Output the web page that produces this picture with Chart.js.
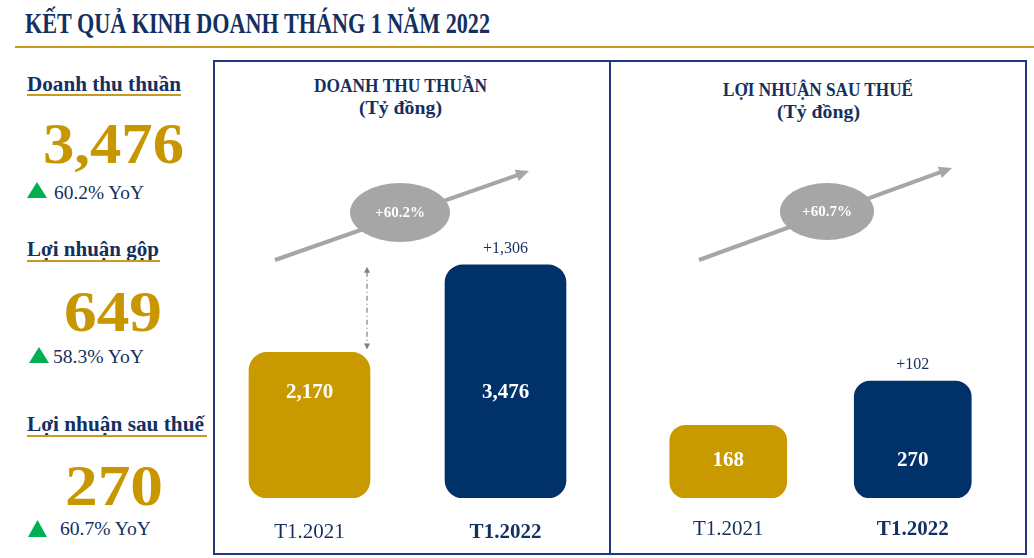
<!DOCTYPE html>
<html lang="vi">
<head>
<meta charset="utf-8">
<title>Kết quả kinh doanh tháng 1 năm 2022</title>
<script src="https://cdn.jsdelivr.net/npm/chart.js@4.4.1/dist/chart.umd.min.js"></script>
<style>
  body { margin: 0; width: 1034px; height: 558px; background: #fff; position: relative; overflow: hidden;
         font-family: 'Liberation Serif', serif; color: #14305f; }
  .t { position: absolute; white-space: nowrap; line-height: 1; transform-origin: 0 0; }
  .b { font-weight: bold; }
  .gold { color: #c89600; }
  .line { position: absolute; background: #c99a1c; }
  .tri { position: absolute; background: #00b050; clip-path: polygon(50% 0, 100% 100%, 0 100%); }
  .panel { position: absolute; box-sizing: border-box; border: 2px solid #1f3a7a; }
  canvas { position: absolute; }
</style>
</head>
<body>
<!-- header -->
<div class="t b" style="font-size:30px" data-x="25" data-b="33" data-w="465">KẾT QUẢ KINH DOANH THÁNG 1 NĂM 2022</div>
<div class="line" style="left:15px;top:46px;width:1019px;height:2px"></div>

<!-- left column -->
<div class="t b" style="font-size:21px" data-x="27" data-b="92" data-w="154">Doanh thu thuần</div>
<div class="line" style="left:27px;top:94px;width:154px;height:2px"></div>
<div class="t b gold" style="font-size:56px" data-x="43" data-b="163" data-w="141">3,476</div>
<div class="tri" style="left:27px;top:182px;width:20px;height:16px"></div>
<div class="t" style="font-size:19px" data-x="54" data-b="199" data-w="90">60.2% YoY</div>

<div class="t b" style="font-size:21px" data-x="27" data-b="257" data-w="132">Lợi nhuận gộp</div>
<div class="line" style="left:27px;top:260px;width:133px;height:2px"></div>
<div class="t b gold" style="font-size:56px" data-x="64" data-b="331" data-w="98">649</div>
<div class="tri" style="left:29px;top:347px;width:20px;height:16px"></div>
<div class="t" style="font-size:19px" data-x="53" data-b="363" data-w="91">58.3% YoY</div>

<div class="t b" style="font-size:21px" data-x="27" data-b="432" data-w="177">Lợi nhuận sau thuế</div>
<div class="line" style="left:27px;top:435px;width:180px;height:2px"></div>
<div class="t b gold" style="font-size:56px" data-x="65" data-b="505" data-w="98">270</div>
<div class="tri" style="left:28px;top:520px;width:19px;height:17px"></div>
<div class="t" style="font-size:19px" data-x="60" data-b="535" data-w="91">60.7% YoY</div>

<!-- panels -->
<div class="panel" style="left:213px;top:60px;width:398px;height:495px"></div>
<div class="panel" style="left:609px;top:60px;width:418px;height:495px"></div>
<div class="t b" style="font-size:18px" data-x="314" data-b="92" data-w="173">DOANH THU THUẦN</div>
<div class="t b" style="font-size:18px" data-x="359" data-b="114" data-w="83">(Tỷ đồng)</div>
<div class="t b" style="font-size:18px" data-x="723" data-b="96" data-w="190">LỢI NHUẬN SAU THUẾ</div>
<div class="t b" style="font-size:18px" data-x="777" data-b="118" data-w="83">(Tỷ đồng)</div>

<canvas id="revChart" width="400" height="490" style="left:211px;top:62px"></canvas>
<canvas id="npatChart" width="411" height="490" style="left:613px;top:62px"></canvas>

<script>
// data
const periods = ['T1.2021', 'T1.2022'];
const revenue = [2170, 3476];      // doanh thu thuần, tỷ đồng
const netProfit = [168, 270];      // lợi nhuận sau thuế, tỷ đồng
const barColors = ['#c89a00', '#003169'];

const NAVY = '#14305f';
const GREY = '#a6a6a6';
const FONT = "'Liberation Serif', serif";
const fmt = v => v.toLocaleString('en-US');

// place html text by baseline and squeeze to width
document.querySelectorAll('.t').forEach(el => {
  const size = parseFloat(getComputedStyle(el).fontSize);
  el.style.left = el.dataset.x + 'px';
  el.style.top = (el.dataset.b - 0.8375 * size) + 'px';
  const w = el.getBoundingClientRect().width;
  el.style.transform = 'scaleX(' + (el.dataset.w / w) + ')';
});

function arrowHead(ctx, x, y, ang, len, half) {
  ctx.beginPath();
  ctx.moveTo(x, y);
  ctx.lineTo(x - len * Math.cos(ang) + half * Math.sin(ang), y - len * Math.sin(ang) - half * Math.cos(ang));
  ctx.lineTo(x - len * Math.cos(ang) - half * Math.sin(ang), y - len * Math.sin(ang) + half * Math.cos(ang));
  ctx.closePath();
  ctx.fill();
}

// growth arrow, ellipse, value labels, difference label
function decoPlugin(o) {
  return {
    id: 'deco',
    afterDatasetsDraw(chart) {
      const ctx = chart.ctx;
      const vals = chart.data.datasets[0].data;
      const bars = chart.getDatasetMeta(0).data;
      const y = chart.scales.y;
      const base = y.getPixelForValue(0);
      ctx.save();

      // trend arrow
      const [x1, y1, x2, y2] = o.arrow;
      const ang = Math.atan2(y2 - y1, x2 - x1);
      ctx.strokeStyle = GREY; ctx.fillStyle = GREY; ctx.lineWidth = 4;
      ctx.beginPath();
      ctx.moveTo(x1, y1);
      ctx.lineTo(x2 - 10 * Math.cos(ang), y2 - 10 * Math.sin(ang));
      ctx.stroke();
      arrowHead(ctx, x2, y2, ang, 13, 6);

      // growth bubble
      const [cx, cy, rx, ry] = o.bubble;
      ctx.beginPath();
      ctx.ellipse(cx, cy, rx, ry, 0, 0, Math.PI * 2);
      ctx.fill();
      const pct = (vals[1] / vals[0] - 1) * 100;
      ctx.fillStyle = '#fff';
      ctx.font = 'bold 15px ' + FONT;
      ctx.textAlign = 'center'; ctx.textBaseline = 'middle';
      ctx.fillText('+' + pct.toFixed(1) + '%', cx, cy + 1);

      // values inside bars
      ctx.font = 'bold 21px ' + FONT;
      bars.forEach((bar, i) => ctx.fillText(fmt(vals[i]), bar.x, base - o.labelRise));

      // difference above second bar
      ctx.fillStyle = NAVY;
      ctx.font = '16px ' + FONT;
      ctx.fillText('+' + fmt(vals[1] - vals[0]), bars[1].x, y.getPixelForValue(vals[1]) - 16);

      // dash-dot gap marker
      if (o.gap) {
        const gx = bars[0].x + bars[0].width / 2 - 3;
        const top = y.getPixelForValue(vals[1]) + 2;
        const bot = y.getPixelForValue(vals[0]) - 3;
        ctx.strokeStyle = '#7f7f7f'; ctx.fillStyle = '#7f7f7f'; ctx.lineWidth = 1.2;
        ctx.setLineDash([5, 3, 1, 3]);
        ctx.beginPath(); ctx.moveTo(gx, top + 5); ctx.lineTo(gx, bot - 5); ctx.stroke();
        ctx.setLineDash([]);
        arrowHead(ctx, gx, top, -Math.PI / 2, 6, 3);
        arrowHead(ctx, gx, bot, Math.PI / 2, 6, 3);
      }
      ctx.restore();
    }
  };
}

function makeChart(id, values, opts) {
  return new Chart(document.getElementById(id), {
    type: 'bar',
    data: {
      labels: periods,
      datasets: [{
        data: values,
        backgroundColor: barColors,
        borderRadius: opts.radius,
        borderSkipped: false,
        barThickness: opts.barWidth
      }]
    },
    options: {
      responsive: false,
      animation: false,
      layout: { padding: opts.padding },
      plugins: { legend: { display: false }, tooltip: { enabled: false } },
      scales: {
        x: {
          grid: { display: false, drawTicks: false },
          border: { display: false },
          ticks: {
            padding: opts.tickPad,
            color: NAVY,
            font: c => ({ family: FONT, size: 21, weight: c.index === 1 ? 'bold' : 'normal' })
          },
          afterFit: s => { s.height = 54; }
        },
        y: { display: false, min: 0, max: opts.max }
      }
    },
    plugins: [decoPlugin(opts)]
  });
}

makeChart('revChart', revenue, {
  max: 6500, radius: 18, barWidth: 121, tickPad: 22,
  padding: { left: 0.5, right: 7.5, top: 0, bottom: 0 },
  arrow: [64, 198, 318, 109], bubble: [189, 150.5, 50, 29.5],
  labelRise: 105, gap: true
});

makeChart('npatChart', netProfit, {
  max: 1000, radius: 16, barWidth: 117, tickPad: 19,
  padding: { left: 23, right: 19, top: 3, bottom: 0 },
  arrow: [86, 198, 339, 106], bubble: [214, 149.5, 47, 28.5],
  labelRise: 37, gap: false
});
</script>
</body>
</html>
